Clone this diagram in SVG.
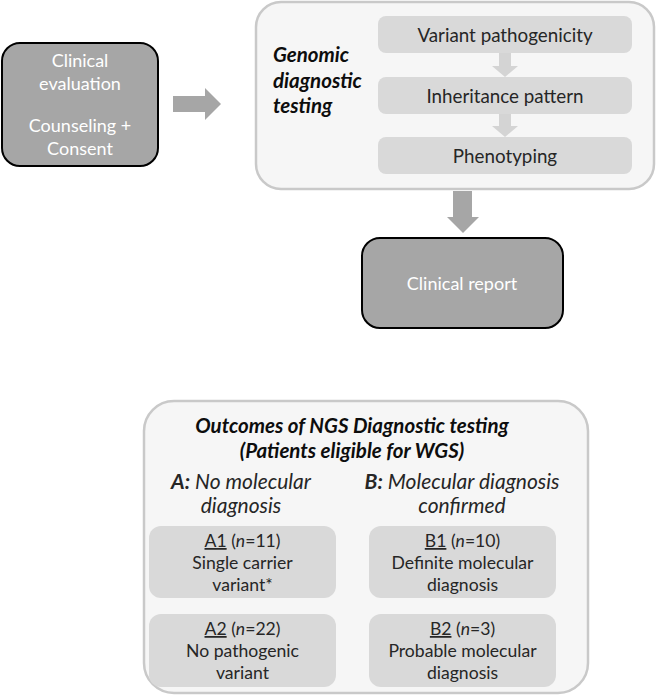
<svg xmlns="http://www.w3.org/2000/svg" width="657" height="697" viewBox="0 0 657 697">
<style>
text{font-family:Lato,"Open Sans","Liberation Sans",sans-serif;text-anchor:middle}
.dark{fill:#a6a6a6;stroke:#000;stroke-width:2}
.cont{fill:#f6f6f6;stroke:#c9c9c9;stroke-width:2.5}
.inner{fill:#d9d9d9}
.wt{fill:#fff;font-size:18px}
.bt{fill:#262626;font-size:18.8px}
.ot{fill:#262626;font-size:17.6px}
.bi{font-weight:bold;font-style:italic;fill:#0d0d0d;font-size:20.5px}
.it{font-style:italic;fill:#262626;font-size:21px}
.arr{fill:#a6a6a6}
.sarr{fill:#d4d4d4}
</style>
<g id="clinical-evaluation">
<rect class="dark" x="2" y="43" width="156" height="123" rx="18"/>
<text class="wt" x="80" y="67">Clinical</text>
<text class="wt" x="80" y="90">evaluation</text>
<text class="wt" x="80" y="132">Counseling +</text>
<text class="wt" x="80" y="155">Consent</text>
</g>
<g id="genomic-testing">
<rect class="cont" x="256" y="2" width="398" height="187" rx="25"/>
<text class="bi" x="273" y="62" style="text-anchor:start">Genomic</text>
<text class="bi" x="273" y="88" style="text-anchor:start">diagnostic</text>
<text class="bi" x="273" y="113" style="text-anchor:start">testing</text>
</g>
<g id="variant-pathogenicity">
<rect class="inner" x="378" y="16" width="254" height="37" rx="8"/>
<text class="bt" x="505" y="42">Variant pathogenicity</text>
</g>
<g id="inheritance-pattern">
<rect class="inner" x="378" y="77" width="254" height="37" rx="8"/>
<text class="bt" x="505" y="103">Inheritance pattern</text>
</g>
<g id="phenotyping">
<rect class="inner" x="378" y="137" width="254" height="37" rx="8"/>
<text class="bt" x="505" y="163">Phenotyping</text>
</g>
<g id="clinical-report">
<rect class="dark" x="362" y="238" width="201" height="90" rx="18"/>
<text class="wt" x="462" y="290">Clinical report</text>
</g>
<g id="outcomes">
<rect class="cont" x="144" y="401" width="444" height="292" rx="30"/>
<text class="bi" x="352" y="433">Outcomes of NGS Diagnostic testing</text>
<text class="bi" x="352" y="458">(Patients eligible for WGS)</text>
<text class="it" x="241" y="489"><tspan font-weight="bold">A:</tspan> No molecular</text>
<text class="it" x="241" y="513">diagnosis</text>
<text class="it" x="462" y="489"><tspan font-weight="bold">B:</tspan> Molecular diagnosis</text>
<text class="it" x="462" y="513">confirmed</text>
</g>
<g id="A1">
<rect class="inner" x="149" y="526" width="187" height="72" rx="12"/>
<text class="ot" x="242.5" y="547"><tspan text-decoration="underline">A1</tspan> (<tspan font-style="italic">n</tspan>=11)</text>
<text class="ot" x="242.5" y="569">Single carrier</text>
<text class="ot" x="242.5" y="591">variant*</text>
</g>
<g id="B1">
<rect class="inner" x="369" y="526" width="187" height="72" rx="12"/>
<text class="ot" x="462.5" y="547"><tspan text-decoration="underline">B1</tspan> (<tspan font-style="italic">n</tspan>=10)</text>
<text class="ot" x="462.5" y="569">Definite molecular</text>
<text class="ot" x="462.5" y="591">diagnosis</text>
</g>
<g id="A2">
<rect class="inner" x="149" y="614" width="187" height="73" rx="12"/>
<text class="ot" x="242.5" y="635"><tspan text-decoration="underline">A2</tspan> (<tspan font-style="italic">n</tspan>=22)</text>
<text class="ot" x="242.5" y="657">No pathogenic</text>
<text class="ot" x="242.5" y="679">variant</text>
</g>
<g id="B2">
<rect class="inner" x="369" y="614" width="187" height="73" rx="12"/>
<text class="ot" x="462.5" y="635"><tspan text-decoration="underline">B2</tspan> (<tspan font-style="italic">n</tspan>=3)</text>
<text class="ot" x="462.5" y="657">Probable molecular</text>
<text class="ot" x="462.5" y="679">diagnosis</text>
</g>
<g id="connectors">
<polygon class="arr" points="173,96 205,96 205,88 221,104 205,120 205,112 173,112"/>
<polygon class="sarr" points="499,53 511,53 511,66 518,66 505,77 492,66 499,66"/>
<polygon class="sarr" points="499,114 511,114 511,126 518,126 505,137 492,126 499,126"/>
<polygon class="arr" points="453,191 472,191 472,217 479,217 463,233 447,217 453,217"/>
</g>
</svg>
